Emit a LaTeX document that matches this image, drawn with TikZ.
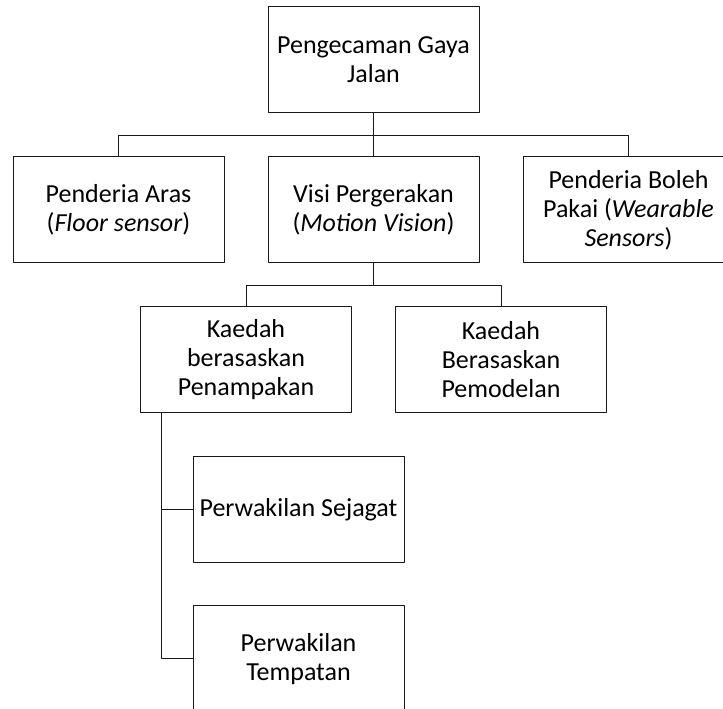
\documentclass[tikz,border=0pt]{standalone}
\usepackage{fontspec}
\setmainfont{Carlito}
\usepackage{tikz}
\usetikzlibrary{arrows,%
                shapes,positioning}
\tikzstyle{box}=[rectangle,draw=black!90,line width=1pt,minimum width=211pt,minimum height=106pt,inner sep=0pt,align=center,font=\fontsize{26pt}{29pt}\selectfont]
\tikzstyle{link}=[draw=black!90,line width=1pt]

\begin{document}
\begin{tikzpicture}[>=latex,line join=bevel]
	  \useasboundingbox (0pt,0pt) rectangle (723pt,709pt);
	  \node (gait) at (373.5pt,649pt) [box] {Pengecaman Gaya\\Jalan};
	  \node (floor) at (118.5pt,499pt) [box] {Penderia Aras\\(\textit{Floor sensor})};
	  \node (vision) at (373.5pt,499pt) [box] {Visi Pergerakan\\(\textit{Motion Vision})};
	  \node (wear) at (628.5pt,499pt) [box] {Penderia Boleh\\Pakai (\textit{Wearable}\\\textit{Sensors})};
	  \node (appear) at (246pt,349.5pt) [box] {Kaedah\\berasaskan\\Penampakan};
	  \node (model) at (501pt,349.5pt) [box] {Kaedah\\Berasaskan\\Pemodelan};
	  \node (global) at (298.5pt,199.5pt) [box] {Perwakilan Sejagat};
	  \node (local) at (298.5pt,50pt) [box] {Perwakilan\\Tempatan};
	  \draw [link] (gait.south) -- (vision.north);
	  \draw [link] (gait.south) -- ++(0,-22pt) -| (floor.north);
	  \draw [link] (gait.south) -- ++(0,-22pt) -| (wear.north);
	  \draw [link] (vision.south) -- ++(0,-22pt) -| (appear.north);
	  \draw [link] (vision.south) -- ++(0,-22pt) -| (model.north);
	  \draw [link] ([xshift=21pt]appear.south west) |- (global.west);
	  \draw [link] ([xshift=21pt]appear.south west) |- (local.west);
    %
    \end{tikzpicture}
\end{document}
